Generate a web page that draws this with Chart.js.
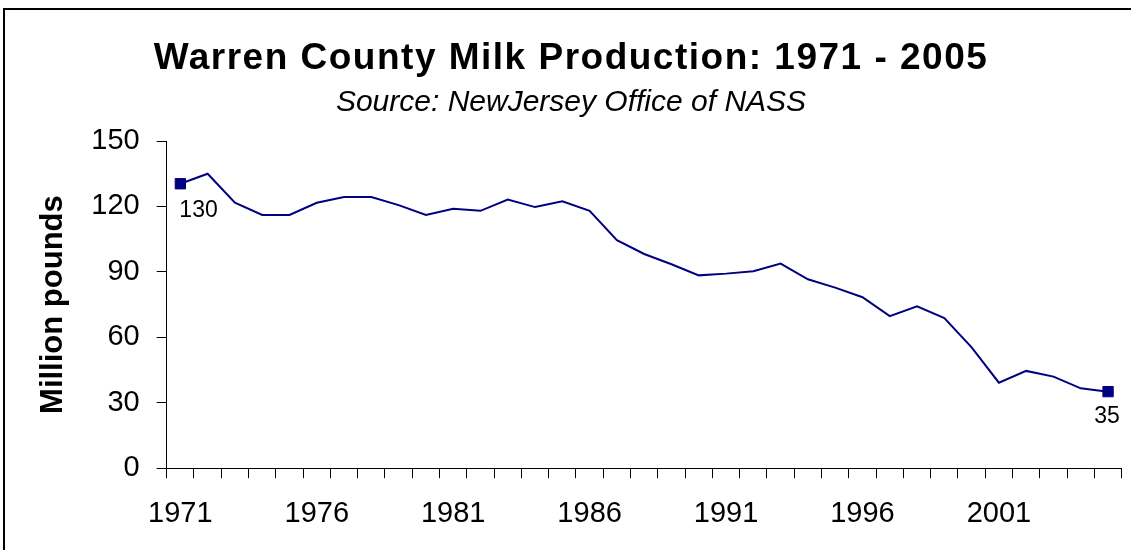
<!DOCTYPE html>
<html>
<head>
<meta charset="utf-8">
<script src="https://cdn.jsdelivr.net/npm/chart.js@4.4.1/dist/chart.umd.min.js"></script>
<style>
  html, body { margin: 0; padding: 0; background: #ffffff; }
  #wrap { width: 1131px; height: 550px; position: relative; }
</style>
</head>
<body>
<div id="wrap"><canvas id="c" width="1131" height="550"></canvas></div>
<script>
// ---- data ----
const years = ["1971","1972","1973","1974","1975","1976","1977","1978","1979","1980",
               "1981","1982","1983","1984","1985","1986","1987","1988","1989","1990",
               "1991","1992","1993","1994","1995","1996","1997","1998","1999","2000",
               "2001","2002","2003","2004","2005"];
const milkMillionPounds = [130.4, 135.0, 121.7, 116.1, 116.1, 121.7, 124.3, 124.3, 120.6, 116.1,
                           118.9, 118.0, 123.2, 119.7, 122.4, 118.0, 104.5, 98.2, 93.5, 88.4,
                           89.2, 90.3, 93.8, 86.6, 82.8, 78.4, 69.7, 74.2, 68.8, 55.4,
                           39.2, 44.6, 42.0, 36.6, 35.1];
const shownYearLabels = ["1971","1976","1981","1986","1991","1996","2001"];
const yTicks = [0, 30, 60, 90, 120, 150];
const labelledPoints = [0, milkMillionPounds.length - 1];

const titleText = "Warren County Milk Production: 1971 - 2005";
const subtitleText = "Source: NewJersey Office of NASS";
const yTitleText = "Million pounds";

const FONT = "'Liberation Sans', Arial, Helvetica, sans-serif";
const NAVY = "#000080";

// frame around the chart (like the cropped Excel chart area border)
const framePlugin = {
  id: 'frame',
  beforeDraw(chart) {
    const ctx = chart.ctx;
    ctx.save();
    ctx.fillStyle = '#ffffff';
    ctx.fillRect(0, 0, chart.width, chart.height);
    ctx.strokeStyle = '#000000';
    ctx.lineWidth = 2;
    ctx.strokeRect(4, 9, chart.width + 20, chart.height + 20);
    ctx.restore();
  }
};

// value labels below first and last points
const pointLabelPlugin = {
  id: 'pointLabels',
  afterDatasetsDraw(chart) {
    const ctx = chart.ctx;
    const meta = chart.getDatasetMeta(0);
    const data = chart.data.datasets[0].data;
    ctx.save();
    ctx.fillStyle = '#000000';
    ctx.font = "23px " + FONT;
    ctx.textBaseline = 'middle';
    labelledPoints.forEach((idx, k) => {
      const pt = meta.data[idx];
      const txt = String(Math.round(data[idx]));
      if (k === 0) {
        ctx.textAlign = 'left';
        ctx.fillText(txt, pt.x - 1, pt.y + 26.5);
      } else {
        ctx.textAlign = 'center';
        ctx.fillText(txt, pt.x - 1, pt.y + 25.5);
      }
    });
    ctx.restore();
  }
};

const PAD_LEFT = 20.3;

const chart = new Chart(document.getElementById('c'), {
  type: 'line',
  data: {
    labels: years,
    datasets: [{
      label: 'Milk production',
      data: milkMillionPounds,
      borderColor: NAVY,
      backgroundColor: NAVY,
      borderWidth: 2,
      tension: 0,
      fill: false,
      pointStyle: 'rect',
      pointRadius: (c) => labelledPoints.includes(c.dataIndex) ? 7.3 : 0,
      pointBorderWidth: 1,
      pointBorderColor: NAVY,
      pointBackgroundColor: NAVY
    }]
  },
  options: {
    responsive: false,
    animation: false,
    devicePixelRatio: 1,
    layout: { padding: { top: 12, left: PAD_LEFT, right: 9.3, bottom: 1 } },
    plugins: {
      legend: { display: false },
      tooltip: { enabled: false },
      title: {
        display: true,
        text: titleText,
        color: '#000000',
        font: { family: FONT, size: 37, weight: 'bold', lineHeight: 1.2 },
        padding: { top: 25, bottom: 0 }
      },
      subtitle: {
        display: true,
        text: subtitleText,
        color: '#000000',
        font: { family: FONT, size: 30, style: 'italic', lineHeight: 1.2 },
        padding: { top: 3, bottom: 20.6 }
      }
    },
    scales: {
      x: {
        type: 'category',
        offset: true,
        grid: {
          offset: true,
          drawOnChartArea: false,
          drawTicks: true,
          tickLength: 10,
          color: '#000000',
          lineWidth: 1
        },
        border: { display: true, color: '#000000', width: 1 },
        ticks: {
          autoSkip: false,
          maxRotation: 0,
          minRotation: 0,
          padding: 18,
          color: '#000000',
          font: { family: FONT, size: 29, lineHeight: 1.2 },
          callback: function (value, index) {
            const lab = this.getLabelForValue(value);
            return shownYearLabels.includes(lab) ? lab : '';
          }
        }
      },
      y: {
        min: yTicks[0],
        max: yTicks[yTicks.length - 1],
        afterBuildTicks: (scale) => { scale.ticks = yTicks.map(v => ({ value: v })); },
        afterFit: (scale) => { scale.width = 166.7 - PAD_LEFT; },
        grid: {
          drawOnChartArea: false,
          drawTicks: true,
          tickLength: 10,
          color: '#000000',
          lineWidth: 1
        },
        border: { display: true, color: '#000000', width: 1 },
        ticks: {
          padding: 17,
          color: '#000000',
          font: { family: FONT, size: 29, lineHeight: 1.2 }
        },
        title: {
          display: true,
          text: yTitleText,
          color: '#000000',
          font: { family: FONT, size: 31, weight: 'bold', lineHeight: 1.2 },
          padding: { top: 34.4 - PAD_LEFT, bottom: 0 }
        }
      }
    }
  },
  plugins: [framePlugin, pointLabelPlugin]
});

// The reference title is set wider than the plain font; widen it with letter spacing.
if (chart.titleBlock && 'letterSpacing' in chart.ctx) {
  const tb = chart.titleBlock;
  const origDraw = tb.draw;
  tb.draw = function () {
    const ctx = this.ctx;
    ctx.save();
    ctx.letterSpacing = '1.5px';
    origDraw.apply(this, arguments);
    ctx.restore();
  };
  chart.draw();
}
</script>
</body>
</html>
